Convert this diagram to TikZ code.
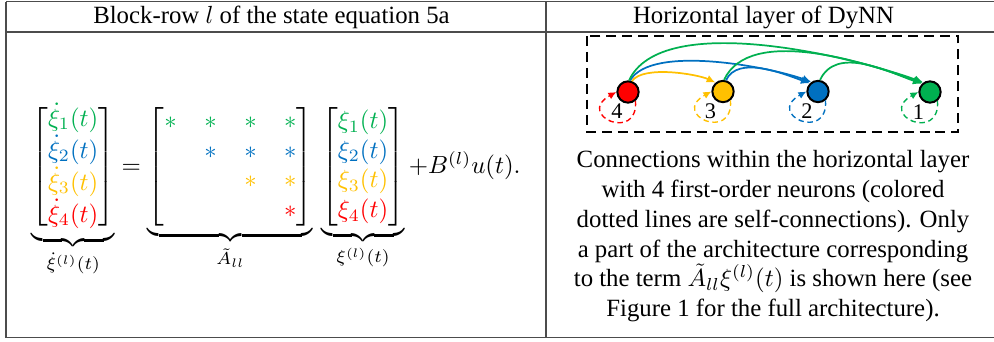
\documentclass[tikz,border=0pt]{standalone}
\usepackage{amsmath}
\usepackage[no-math]{fontspec}
\setmainfont{Liberation Serif}
\usetikzlibrary{arrows.meta}
\definecolor{cg}{HTML}{00B050}
\definecolor{cb}{HTML}{0070C0}
\definecolor{cy}{HTML}{FFC000}
\definecolor{cr}{HTML}{FF0000}
\begin{document}
\begin{tikzpicture}[x=0.4032pt,y=0.4032pt,
  rule/.style={draw=black!70,line width=0.6pt},
  neuron/.style={circle,draw=black,line width=0.8pt,minimum size=8.6pt,inner sep=0pt},
  conn/.style={line width=0.7pt,-{Latex[length=3.6pt,width=3.2pt]}},
  selfloop/.style={dash pattern=on 2.2pt off 1.5pt,line width=0.55pt,-{Latex[length=3.2pt,width=3pt]}},
  frame/.style={draw=black,line width=0.9pt,dash pattern=on 4pt off 2.4pt},
  idx/.style={inner sep=0pt,font=\small}]
\useasboundingbox (0,0) rectangle (994,-341);
% table rules
\draw[rule] (6,-1.5) -- (994,-1.5);
\draw[rule] (6,-32) -- (994,-32);
\draw[rule] (6,-337.5) -- (994,-337.5);
\draw[rule] (6,-1.5) -- (6,-337.5);
\draw[rule] (546,-1.5) -- (546,-337.5);
% headers
\node[anchor=base,inner sep=0] (h1) at (271.5,-23) {Block-row $l$ of the state equation 5a};
\node[anchor=base,inner sep=0] (h2) at (763.5,-23) {Horizontal layer of DyNN};
% equation
\node[anchor=base west,inner sep=0] (eq) at (31,-173.2) {$\underbrace{\begin{bmatrix}{\color{cg}\dot\xi_1(t)}\\{\color{cb}\dot\xi_2(t)}\\{\color{cy}\dot\xi_3(t)}\\{\color{cr}\dot\xi_4(t)}\end{bmatrix}}_{\dot\xi^{(l)}(t)}
=\underbrace{\setlength{\arraycolsep}{5.55pt}\begin{bmatrix}{\color{cg}*}&{\color{cg}*}&{\color{cg}*}&{\color{cg}*}\\ &{\color{cb}*}&{\color{cb}*}&{\color{cb}*}\\ &&{\color{cy}*}&{\color{cy}*}\\ &&&{\color{cr}*}\end{bmatrix}}_{\tilde A_{ll}}\mkern3mu
\underbrace{\begin{bmatrix}{\color{cg}\xi_1(t)}\\{\color{cb}\xi_2(t)}\\{\color{cy}\xi_3(t)}\\{\color{cr}\xi_4(t)}\end{bmatrix}}_{\xi^{(l)}(t)}
+B^{(l)}u(t).$};
% diagram
\draw[frame] (587,-36) rectangle (958,-132);
\node[neuron,fill=cr] (n4) at (628,-92) {};
\node[neuron,fill=cy] (n3) at (723,-91.5) {};
\node[neuron,fill=cb] (n2) at (818,-91.5) {};
\node[neuron,fill=cg] (n1) at (930,-92) {};
\draw[conn,cy] (n4.70) to[out=55,in=155,looseness=0.6] (n3.130);
\draw[conn,cb] (n4.80) to[out=60,in=160,looseness=0.6] (n2.125);
\draw[conn,cg] (n4.85) to[out=65,in=160,looseness=0.67] (n1.125);
\draw[conn,cb] (n3.75) to[out=65,in=160,looseness=0.85] (n2.135);
\draw[conn,cg] (n3.85) to[out=65,in=160,looseness=0.78] (n1.130);
\draw[conn,cg] (n2.80) to[out=65,in=160,looseness=0.95] (n1.135);
\draw[selfloop,cr] (n4.-50) to[out=-86,in=209,out distance=17pt,in distance=19pt] (n4.west);
\draw[selfloop,cy] (n3.-50) to[out=-86,in=209,out distance=17pt,in distance=19pt] (n3.west);
\draw[selfloop,cb] (n2.-50) to[out=-86,in=209,out distance=17pt,in distance=19pt] (n2.west);
\draw[selfloop,cg] (n1.-50) to[out=-86,in=209,out distance=17pt,in distance=19pt] (n1.west);
\node[idx] (l4) at (617,-111) {4};
\node[idx] (l3) at (710.5,-111) {3};
\node[idx] (l2) at (807,-111) {2};
\node[idx] (l1) at (918.5,-112) {1};
% caption
\node[anchor=north,align=center,inner sep=0] (cap) at (773,-150) {Connections within the horizontal layer\\
with 4 first-order neurons (colored\\
dotted lines are self-connections). Only\\
a part of the architecture corresponding\\
to the term $\tilde A_{ll}\xi^{(l)}(t)$ is shown here (see\\
Figure 1 for the full architecture).};
\end{tikzpicture}
\end{document}
